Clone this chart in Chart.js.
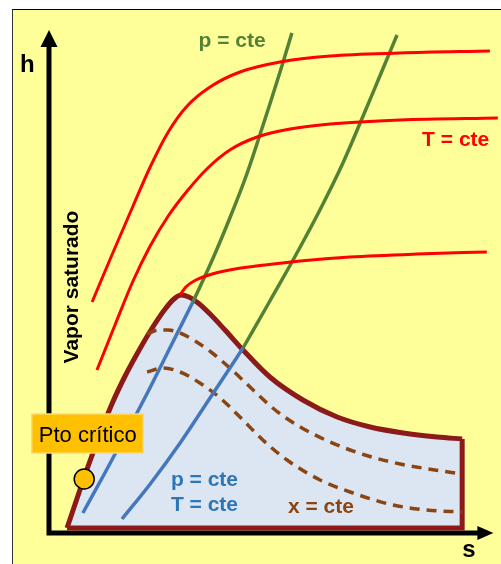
<!DOCTYPE html>
<html>
<head>
<meta charset="utf-8">
<script src="https://cdn.jsdelivr.net/npm/chart.js@4/dist/chart.umd.min.js"></script>
<style>
  html, body { margin: 0; padding: 0; background: #fff; }
  #frame {
    position: absolute; left: 12px; top: 9px; width: 489px; height: 555px;
    background: #FFFF99; border-top: 1px solid #000; border-left: 1px solid #333;
  }
  #wrap { position: absolute; left: 0; top: 0; width: 501px; height: 564px; }
</style>
</head>
<body>
<div id="frame"></div>
<div id="wrap"><canvas id="chart" width="501" height="564"></canvas></div>
<script>
// s (entropy) and h (enthalpy), arbitrary units 0..10

// saturation dome
const domeS = [0.41, 0.64, 0.89, 1.16, 1.43, 1.73, 2.05, 2.36, 2.64, 2.84, 3.00, 3.18, 3.39, 3.66, 4.00, 4.41, 5.02, 5.77, 6.55, 7.30, 8.05, 8.82, 9.39];
const domeH = [0.10, 0.70, 1.34, 1.98, 2.58, 3.14, 3.66, 4.12, 4.48, 4.68, 4.76, 4.72, 4.60, 4.38, 4.06, 3.66, 3.12, 2.66, 2.32, 2.12, 2.00, 1.92, 1.88];
const domeEdgeS = [9.39, 9.39, 0.41];
const domeEdgeH = [1.88, 0.10, 0.10];

// x = cte (dashed)
const x1S = [2.23, 2.48, 2.71, 2.98, 3.32, 3.71, 4.16, 4.64, 5.14, 5.71, 6.39, 7.18, 7.98, 8.77, 9.39];
const x1H = [3.98, 4.06, 4.06, 4.00, 3.84, 3.60, 3.26, 2.86, 2.46, 2.12, 1.82, 1.56, 1.38, 1.26, 1.18];
const x2S = [2.23, 2.59, 2.98, 3.43, 3.89, 4.34, 4.86, 5.41, 6.16, 6.91, 7.82, 8.59, 9.39];
const x2H = [3.22, 3.30, 3.22, 3.00, 2.70, 2.32, 1.86, 1.46, 1.06, 0.80, 0.56, 0.46, 0.42];

// p = T = cte inside the dome
const b1S = [0.77, 1.27, 1.77, 2.27, 2.77, 3.27];
const b1H = [0.40, 1.20, 2.02, 2.86, 3.74, 4.62];
const b2S = [1.66, 2.30, 2.98, 3.66, 4.41];
const b2H = [0.28, 0.98, 1.80, 2.70, 3.70];

// p = cte outside the dome
const g1S = [3.27, 3.71, 4.11, 4.48, 4.77, 5.05, 5.30, 5.52];
const g1H = [4.62, 5.46, 6.30, 7.14, 7.90, 8.66, 9.36, 10.0];
const g2S = [4.41, 5.02, 5.61, 6.18, 6.68, 7.11, 7.52, 7.91];
const g2H = [3.70, 4.64, 5.56, 6.50, 7.40, 8.28, 9.14, 9.96];

// T = cte
const r1S = [0.98, 1.43, 1.91, 2.30, 2.71, 3.14, 3.66, 4.34, 5.25, 6.39, 7.98, 10.02];
const r1H = [4.62, 5.56, 6.54, 7.32, 8.02, 8.54, 8.92, 9.22, 9.42, 9.54, 9.60, 9.64];
const r2S = [1.09, 1.50, 1.91, 2.30, 2.71, 3.14, 3.61, 4.11, 4.73, 5.48, 6.39, 7.98, 10.2];
const r2H = [3.26, 4.16, 5.04, 5.74, 6.34, 6.84, 7.30, 7.66, 7.92, 8.08, 8.18, 8.26, 8.30];
const r3S = [2.98, 3.11, 3.34, 3.71, 4.23, 4.91, 5.71, 6.84, 8.36, 9.95];
const r3H = [4.76, 4.92, 5.06, 5.18, 5.28, 5.36, 5.44, 5.52, 5.58, 5.62];

// critical point marker
const critS = [0.80];
const critH = [1.08];

const pts = (s, h) => s.map((v, i) => ({ x: v, y: h[i] }));

function curve(data, color, width, order, extra) {
  return Object.assign({
    data: data, showLine: true, borderColor: color, borderWidth: width,
    pointRadius: 0, fill: false, cubicInterpolationMode: 'monotone',
    clip: false, order: order
  }, extra || {});
}

const FONT = '"Liberation Sans", Arial, sans-serif';

const decorations = {
  id: 'decorations',
  beforeDatasetsDraw(chart) {
    const { ctx, scales: { x, y } } = chart;
    const x0 = x.getPixelForValue(0), y0 = y.getPixelForValue(0);
    const yTop = y.getPixelForValue(10.06), xEnd = x.getPixelForValue(10.1);
    ctx.save();
    ctx.strokeStyle = '#000'; ctx.fillStyle = '#000'; ctx.lineWidth = 5;
    ctx.beginPath();
    ctx.moveTo(x0, yTop + 12); ctx.lineTo(x0, y0); ctx.lineTo(xEnd - 12, y0);
    ctx.stroke();
    ctx.beginPath();
    ctx.moveTo(x0, yTop); ctx.lineTo(x0 - 8.5, yTop + 17); ctx.lineTo(x0 + 8.5, yTop + 17); ctx.closePath();
    ctx.fill();
    ctx.beginPath();
    ctx.moveTo(xEnd, y0); ctx.lineTo(xEnd - 16, y0 - 7); ctx.lineTo(xEnd - 16, y0 + 7); ctx.closePath();
    ctx.fill();
    ctx.restore();
  },
  afterDatasetsDraw(chart) {
    const { ctx, scales: { x, y } } = chart;
    const px = v => x.getPixelForValue(v), py = v => y.getPixelForValue(v);
    ctx.save();
    function text(t, s, h, color, size, weight, align) {
      ctx.font = (weight || 'bold') + ' ' + size + 'px ' + FONT;
      ctx.fillStyle = color;
      ctx.textAlign = align || 'left';
      ctx.textBaseline = 'alphabetic';
      ctx.fillText(t, px(s), py(h));
    }
    text('h', -0.66, 9.22, '#000', 24);
    text('s', 9.39, -0.48, '#000', 24);
    text('p = cte', 4.16, 9.72, '#548235', 21, 'bold', 'center');
    text('T = cte', 8.48, 7.74, '#FF0000', 21);
    text('p = cte', 2.77, 0.94, '#2E75B6', 21);
    text('T = cte', 2.77, 0.44, '#2E75B6', 21);
    text('x = cte', 5.43, 0.40, '#8B4513', 21);

    // rotated label
    ctx.save();
    ctx.translate(px(0.66), py(4.92));
    ctx.rotate(-Math.PI / 2);
    ctx.font = 'bold 21px ' + FONT;
    ctx.fillStyle = '#000';
    ctx.textAlign = 'center';
    ctx.fillText('Vapor saturado', 0, 0);
    ctx.restore();

    // critical point box
    const bx = px(-0.39), by = py(2.38), bw = px(2.14) - bx, bh = py(1.60) - by;
    ctx.fillStyle = '#FFC000';
    ctx.fillRect(bx, by, bw, bh);
    ctx.strokeStyle = '#FFD966'; ctx.lineWidth = 1.5;
    ctx.strokeRect(bx, by, bw, bh);
    text('Pto crítico', 0.88, 1.82, '#000', 22, 'normal', 'center');
    ctx.restore();
  }
};

new Chart(document.getElementById('chart'), {
  type: 'scatter',
  data: {
    datasets: [
      curve(pts(domeS, domeH), '#8C1A1A', 5, 20, { fill: { value: 0.10 }, backgroundColor: '#DCE6F2' }),
      curve(pts(domeEdgeS, domeEdgeH), '#8C1A1A', 5, 19, { cubicInterpolationMode: 'default', tension: 0, borderJoinStyle: 'miter' }),
      curve(pts(x1S, x1H), '#8B4513', 3.5, 15, { borderDash: [10, 7] }),
      curve(pts(x2S, x2H), '#8B4513', 3.5, 15, { borderDash: [10, 7] }),
      curve(pts(b1S, b1H), '#4477BB', 3.5, 12),
      curve(pts(b2S, b2H), '#4477BB', 3.5, 12),
      curve(pts(g1S, g1H), '#548235', 3.5, 11),
      curve(pts(g2S, g2H), '#548235', 3.5, 11),
      curve(pts(r1S, r1H), '#FF0000', 3, 10),
      curve(pts(r2S, r2H), '#FF0000', 3, 10),
      curve(pts(r3S, r3H), '#FF0000', 3, 10),
      { data: pts(critS, critH), showLine: false, pointRadius: 10, pointBackgroundColor: '#FFC000',
        pointBorderColor: '#000', pointBorderWidth: 1.5, clip: false, order: 0 }
    ]
  },
  options: {
    responsive: false,
    animation: false,
    layout: { padding: { left: 49, right: 12, top: 33, bottom: 31 } },
    scales: {
      x: { type: 'linear', min: 0, max: 10, display: false },
      y: { type: 'linear', min: 0, max: 10, display: false }
    },
    plugins: { legend: { display: false }, tooltip: { enabled: false } }
  },
  plugins: [decorations]
});
</script>
</body>
</html>
